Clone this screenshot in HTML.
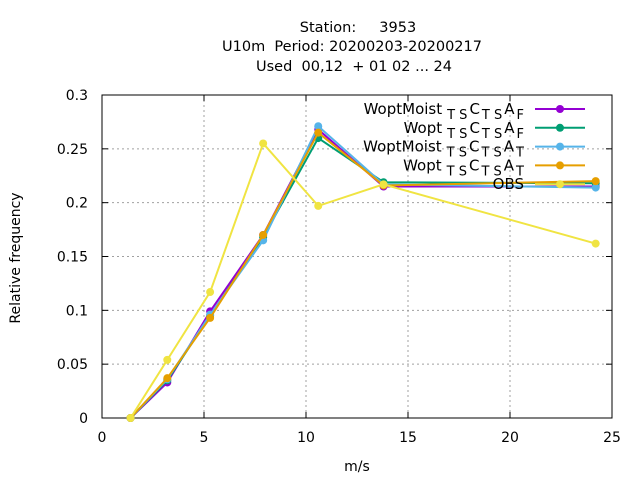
<!DOCTYPE html>
<html><head><meta charset="utf-8"><style>
body{margin:0;background:#fff;}
svg text{font-family:"DejaVu Sans","Liberation Sans",sans-serif;fill:#000;}
</style></head><body>
<svg id="chart" width="640" height="480" xmlns="http://www.w3.org/2000/svg">
<g font-size="14.5">
<text x="358" y="32" text-anchor="middle" style="white-space:pre">Station:     3953</text>
<text x="352" y="51" text-anchor="middle" style="white-space:pre">U10m  Period: 20200203-20200217</text>
<text x="354" y="71" text-anchor="middle" style="white-space:pre">Used  00,12  + 01 02 ... 24</text>
</g>
<g id="grid"></g>
<g id="axes"></g>
<g id="series"></g>
<g id="legend"></g>
<text x="20" y="258" font-size="14" text-anchor="middle" transform="rotate(-90 20 258)">Relative frequency</text>
<text x="357" y="471" font-size="14" text-anchor="middle">m/s</text>
</svg>
<script>
const xValues=[1.4,3.2,5.3,7.9,10.6,13.8,24.2];
const seriesNames=["WoptMoist","Wopt","WoptMoist","Wopt","OBS"];
const seriesSubs=["F","F","T","T",""];
const seriesColors=["#9400d3","#009e73","#56b4e9","#e69f00","#f0e442"];
const purpleVals=[0,0.033,0.099,0.170,0.268,0.215,0.215];
const greenVals=[0,0.035,0.095,0.168,0.260,0.219,0.218];
const blueVals=[0,0.036,0.096,0.165,0.271,0.217,0.214];
const orangeVals=[0,0.037,0.093,0.170,0.265,0.216,0.220];
const obsVals=[0,0.054,0.117,0.255,0.197,0.217,0.162];
const xTicks=[0,5,10,15,20,25];
const yTicks=[0,0.05,0.1,0.15,0.2,0.25,0.3];
const yTickLabels=["0","0.05","0.1","0.15","0.2","0.25","0.3"];
const L=102,R=612,T=95,B=418;
const sx=v=>L+(v-0)/25*(R-L);
const sy=v=>B-(v/0.3)*(B-T);
const NS="http://www.w3.org/2000/svg";
function mk(tag,attrs,parent){const e=document.createElementNS(NS,tag);for(const k in attrs)e.setAttribute(k,attrs[k]);parent.appendChild(e);return e;}
const grid=document.getElementById('grid'),axes=document.getElementById('axes'),ser=document.getElementById('series'),leg=document.getElementById('legend');
xTicks.forEach(t=>{const x=sx(t);
 if(t>0&&t<25){const g=mk('line',{x1:x,x2:x,y1:T,y2:B,stroke:'#a0a0a0','stroke-dasharray':'2,3'},grid);}
 const tk=mk('line',{x1:x,x2:x,y1:B,y2:B-6,stroke:'#000'},axes);
 const tx=mk('text',{x:x,y:B+24,'font-size':14,'text-anchor':'middle'},axes);tx.textContent=t;
 });
yTicks.forEach((t,i)=>{const y=sy(t);
 if(i>0&&i<yTicks.length-1){const g=mk('line',{x1:L,x2:R,y1:y,y2:y,stroke:'#a0a0a0','stroke-dasharray':'2,3'},grid);}
 const tk=mk('line',{x1:L,x2:L+6,y1:y,y2:y,stroke:'#000'},axes);
 const tk2=mk('line',{x1:R,x2:R-6,y1:y,y2:y,stroke:'#000'},axes);
 const tx=mk('text',{x:L-14,y:y+5,'font-size':14,'text-anchor':'end'},axes);tx.textContent=yTickLabels[i];
 });
xTicks.forEach(t=>{const tk=mk('line',{x1:sx(t),x2:sx(t),y1:T,y2:T+6,stroke:'#000'},axes);});
const fr=mk('rect',{x:L,y:T,width:R-L,height:B-T,fill:'none',stroke:'#000'},axes);

const allVals=[purpleVals,greenVals,blueVals,orangeVals,obsVals];
allVals.forEach((vals,si)=>{const c=seriesColors[si];
 const pts=vals.map((v,i)=>sx(xValues[i])+','+sy(v)).join(' ');
 const pl=mk('polyline',{points:pts,fill:'none',stroke:c,'stroke-width':2},ser);
 
 vals.forEach((v,i)=>{const m=mk('circle',{cx:sx(xValues[i]),cy:sy(v),r:4,fill:c},ser);
  });
 const ly=109+si*18.8;
 const ll=mk('line',{x1:535,x2:585,y1:ly,y2:ly,stroke:c,'stroke-width':2},leg);
 
 const lm=mk('circle',{cx:560,cy:ly,r:4,fill:c},leg);
 
 const lt=mk('text',{x:524,y:ly+5,'font-size':15,'text-anchor':'end'},leg);
 
 if(seriesSubs[si]){
  lt.innerHTML=seriesNames[si]+'<tspan font-size="13" dy="5" dx="5" style="white-space:pre">T S</tspan><tspan dy="-5" dx="2">C</tspan><tspan font-size="13" dy="5" dx="2" style="white-space:pre">T S</tspan><tspan dy="-5" dx="2">A</tspan><tspan font-size="13" dy="5" dx="2">'+seriesSubs[si]+'</tspan>';
 } else lt.textContent=seriesNames[si];
});
</script>
</body></html>
